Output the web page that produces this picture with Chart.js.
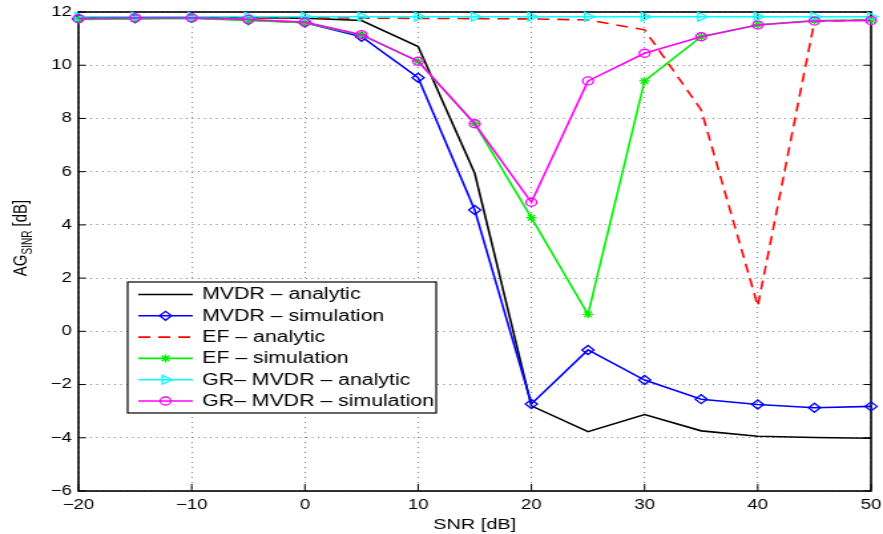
<!DOCTYPE html>
<html>
<head>
<meta charset="utf-8">
<script src="https://cdn.jsdelivr.net/npm/chart.js@4.4.1/dist/chart.umd.min.js"></script>
<style>
  html, body { margin: 0; padding: 0; background: #fff; overflow: hidden; }
  /* the figure is laid out narrow and stretched sideways, like the exported plot */
  #wrap { width: 664px; height: 534px; transform: scale(1.3298, 1); transform-origin: 0 0; }
</style>
</head>
<body>
<div id="wrap"><canvas id="myChart"></canvas></div>
<script>
const FONT = "'Liberation Sans', Arial, Helvetica, sans-serif";

// SNR sweep [dB]
const snr = [-20, -15, -10, -5, 0, 5, 10, 15, 20, 25, 30, 35, 40, 45, 50];

// array gain AG_SINR [dB]
const mvdrAnalytic = [11.8, 11.8, 11.8, 11.79, 11.77, 11.68, 10.7, 5.94, -2.8, -3.77, -3.13, -3.74, -3.94, -3.99, -4.02];
const mvdrSim = [11.74, 11.76, 11.78, 11.7, 11.6, 11.07, 9.53, 4.56, -2.73, -0.7, -1.83, -2.55, -2.75, -2.87, -2.82];
const efAnalytic = [11.78, 11.78, 11.78, 11.78, 11.78, 11.77, 11.76, 11.75, 11.74, 11.7, 11.33, 8.32, 0.95, 11.65, 11.7];
const efSim = [11.72, 11.74, 11.76, 11.68, 11.6, 11.13, 10.15, 7.8, 4.27, 0.64, 9.41, 11.07, 11.52, 11.68, 11.7];
const grAnalytic = [11.82, 11.82, 11.82, 11.82, 11.82, 11.82, 11.82, 11.82, 11.82, 11.82, 11.82, 11.82, 11.82, 11.82, 11.82];
const grSim = [11.75, 11.78, 11.78, 11.72, 11.62, 11.15, 10.15, 7.8, 4.85, 9.41, 10.45, 11.07, 11.51, 11.66, 11.68];

const xTicks = [-20, -10, 0, 10, 20, 30, 40, 50];
const yTicks = [-6, -4, -2, 0, 2, 4, 6, 8, 10, 12];

function pts(vals) {
    return snr.map((x, i) => ({ x: x, y: vals[i] }));
}

// matlab style minus sign
function fmt(v) {
    return String(v).replace('-', '\u2212');
}

const series = [
    { label: 'MVDR \u2013 analytic', data: mvdrAnalytic, color: '#000000', style: false },
    { label: 'MVDR \u2013 simulation', data: mvdrSim, color: '#0000ff', style: 'rectRot', radius: 4.5 },
    { label: 'EF \u2013 analytic', data: efAnalytic, color: '#ff0000', style: false, dash: [9, 6] },
    { label: 'EF \u2013 simulation', data: efSim, color: '#00ee00', style: 'star', radius: 4 },
    { label: 'GR\u2013 MVDR \u2013 analytic', data: grAnalytic, color: '#00ffff', style: 'triangle', radius: 5, rotation: 90 },
    { label: 'GR\u2013 MVDR \u2013 simulation', data: grSim, color: '#ff00ff', style: 'circle', radius: 4 }
];

const datasets = series.map((s, i) => ({
    label: s.label,
    data: pts(s.data),
    borderColor: s.color,
    borderWidth: 1.6,
    borderDash: s.dash || [],
    pointStyle: s.style || 'circle',
    pointRadius: s.style ? s.radius : 0,
    pointRotation: s.rotation || 0,
    pointBorderColor: s.color,
    pointBackgroundColor: 'rgba(0,0,0,0)',
    pointBorderWidth: 1.3,
    fill: false,
    tension: 0,
    clip: false,
    order: series.length - i
}));

// axes box with inward ticks on all four sides
const boxPlugin = {
    id: 'boxPlugin',
    beforeDatasetsDraw(chart) {
        const { ctx, chartArea: a, scales } = chart;
        ctx.save();
        ctx.strokeStyle = '#000';
        ctx.lineWidth = 1;
        ctx.beginPath();
        xTicks.forEach(v => {
            const px = scales.x.getPixelForValue(v);
            ctx.moveTo(px, a.bottom); ctx.lineTo(px, a.bottom - 7);
            ctx.moveTo(px, a.top); ctx.lineTo(px, a.top + 7);
        });
        yTicks.forEach(v => {
            const py = scales.y.getPixelForValue(v);
            ctx.moveTo(a.left, py); ctx.lineTo(a.left + 5.5, py);
            ctx.moveTo(a.right, py); ctx.lineTo(a.right - 5.5, py);
        });
        ctx.stroke();
        ctx.lineWidth = 1.6;
        ctx.strokeRect(a.left, a.top, a.right - a.left, a.bottom - a.top);
        ctx.restore();
    }
};

// boxed legend in the lower left and the axis titles
const legendPlugin = {
    id: 'legendPlugin',
    afterDraw(chart) {
        const ctx = chart.ctx;
        const a = chart.chartArea;
        ctx.save();

        const bx = 96, by = 282, bw = 232, bh = 131;
        ctx.fillStyle = '#fff';
        ctx.fillRect(bx, by, bw, bh);
        ctx.strokeStyle = '#000';
        ctx.lineWidth = 1.2;
        ctx.strokeRect(bx, by, bw, bh);

        ctx.font = '16px ' + FONT;
        ctx.textBaseline = 'middle';
        ctx.textAlign = 'left';
        chart.data.datasets.forEach((ds, i) => {
            const y = 294.5 + i * 21.3;
            ctx.strokeStyle = ds.borderColor;
            ctx.lineWidth = ds.borderWidth;
            ctx.setLineDash(ds.borderDash);
            ctx.beginPath();
            ctx.moveTo(104, y);
            ctx.lineTo(145, y);
            ctx.stroke();
            ctx.setLineDash([]);
            if (ds.pointRadius > 0) {
                ctx.fillStyle = 'rgba(0,0,0,0)';
                ctx.lineWidth = ds.pointBorderWidth;
                Chart.helpers.drawPoint(ctx, {
                    pointStyle: ds.pointStyle,
                    radius: ds.pointRadius,
                    rotation: ds.pointRotation,
                    borderWidth: ds.pointBorderWidth
                }, 124.5, y);
            }
            ctx.fillStyle = '#000';
            ctx.fillText(ds.label, 152, y + 0.5);
        });

        // x title
        ctx.font = '15px ' + FONT;
        ctx.textAlign = 'center';
        ctx.textBaseline = 'alphabetic';
        ctx.fillText('SNR [dB]', (a.left + a.right) / 2, 528.5);

        // y title with subscript
        ctx.translate(20, 238);
        ctx.rotate(-Math.PI / 2);
        ctx.textAlign = 'left';
        const big = '15px ' + FONT, small = '10px ' + FONT;
        ctx.font = big;
        const w1 = ctx.measureText('AG').width;
        const w3 = ctx.measureText(' [dB]').width;
        ctx.font = small;
        const w2 = ctx.measureText('SINR').width;
        let x = -(w1 + w2 + w3) / 2;
        ctx.font = big;
        ctx.fillText('AG', x, 0);
        x += w1;
        ctx.font = small;
        ctx.fillText('SINR', x, 4);
        x += w2;
        ctx.font = big;
        ctx.fillText(' [dB]', x, 0);
        ctx.restore();
    }
};

const ctx = document.getElementById('myChart').getContext('2d');
const myChart = new Chart(ctx, {
    type: 'line',
    data: { datasets: datasets },
    options: {
        responsive: true,
        maintainAspectRatio: false,
        animation: false,
        events: [],
        layout: { padding: { top: 12, right: 9, left: 0, bottom: 0 } },
        plugins: {
            legend: { display: false },
            tooltip: { enabled: false }
        },
        scales: {
            x: {
                type: 'linear',
                min: -20,
                max: 50,
                afterFit: s => { s.height = 43; s.paddingLeft = 0; s.paddingRight = 0; },
                afterBuildTicks: s => { s.ticks = xTicks.map(v => ({ value: v })); },
                ticks: {
                    padding: 6,
                    color: '#000',
                    maxRotation: 0,
                    font: { family: FONT, size: 14 },
                    callback: v => fmt(v)
                },
                grid: { color: 'rgba(0,0,0,0.5)', lineWidth: 1, drawTicks: false },
                border: { display: false, dash: [1, 4] }
            },
            y: {
                min: -6,
                max: 12,
                afterFit: s => { s.width = 59; s.paddingTop = 0; s.paddingBottom = 0; },
                afterBuildTicks: s => { s.ticks = yTicks.map(v => ({ value: v })); },
                ticks: {
                    padding: 5,
                    color: '#000',
                    font: { family: FONT, size: 14 },
                    callback: v => fmt(v)
                },
                grid: { color: 'rgba(0,0,0,0.5)', lineWidth: 1, drawTicks: false },
                border: { display: false, dash: [1, 3.5] }
            }
        }
    },
    plugins: [boxPlugin, legendPlugin]
});
</script>
</body>
</html>
